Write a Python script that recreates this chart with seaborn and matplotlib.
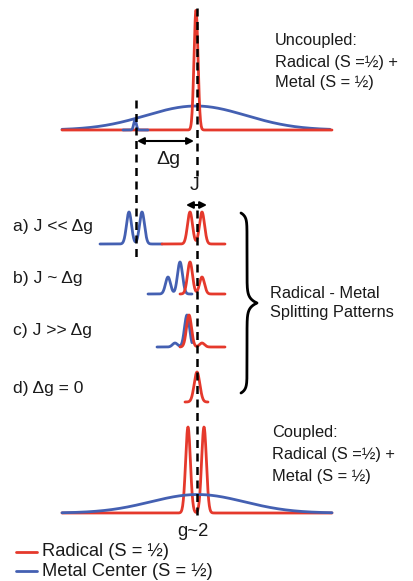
import numpy as np
import seaborn as sns
import matplotlib.pyplot as plt

# colours
RED = '#e5392c'
BLUE = '#4460b2'

# ---- data (pixel-ish diagram units, y grows downward) ----
# uncoupled spectrum
top_base = 130
top_radical_pos = [196]
top_radical_h = [120]
top_metal_pos = [196]
top_metal_h = [24]
top_metal_g_pos = [135]
top_metal_g_h = [10]

# splitting pattern rows
row_labels = ["a) J << \u0394g", "b) J ~ \u0394g", "c) J >> \u0394g", "d) \u0394g = 0"]
row_label_y = [227, 278, 330, 388]
row_base = [244, 294, 347, 402]
row_metal_pos = [[129, 142], [168, 180], [175, 187], []]
row_metal_h = [[32, 32], [17, 32], [4, 32], []]
row_metal_span = [(100, 162), (148, 192), (157, 192), None]
row_radical_pos = [[190, 202], [190, 202], [189, 202], [197]]
row_radical_h = [[32, 32], [32, 17], [32, 4], [30]]
row_radical_span = [(162, 225), (180, 225), (180, 225), (185, 208)]
row_width = [2.5, 2.5, 2.5, 2.8]

# coupled spectrum
cpl_base = 513
cpl_radical_pos = [188, 204]
cpl_radical_h = [86, 86]
cpl_metal_pos = [185, 210]
cpl_metal_h = [9.6, 9.6]

legend_labels = ["Radical (S = \u00bd)", "Metal Center (S = \u00bd)"]


def spectrum(lo, hi, pos, heights, width, base):
    x = np.linspace(lo, hi, 800)
    y = np.zeros_like(x)
    for p, h in zip(pos, heights):
        y += h * np.exp(-(x - p) ** 2 / (2 * width ** 2))
    return x, base - y


def draw(ax, x, y, color, lw=2.0):
    sns.lineplot(x=x, y=y, color=color, linewidth=lw, estimator=None,
                 sort=False, ax=ax)


sns.set_style("white")
plt.rcParams['font.family'] = ['Liberation Sans', 'DejaVu Sans']
TXT = '#1a1a1a'

fig = plt.figure(figsize=(4.13, 5.81), dpi=100)
ax = fig.add_axes([0, 0, 1, 1])
ax.set_xlim(0, 413)
ax.set_ylim(581, 0)
ax.axis('off')

# uncoupled
draw(ax, *spectrum(62, 330, top_metal_pos, top_metal_h, 50, top_base), BLUE)
draw(ax, *spectrum(62, 332, top_radical_pos, top_radical_h, 2.0, top_base), RED)
draw(ax, *spectrum(123, 148, top_metal_g_pos, top_metal_g_h, 1.3, top_base), BLUE)

# splitting rows
for i in range(4):
    if row_metal_span[i] is not None:
        draw(ax, *spectrum(*row_metal_span[i], row_metal_pos[i], row_metal_h[i], row_width[i], row_base[i]), BLUE)
    draw(ax, *spectrum(*row_radical_span[i], row_radical_pos[i], row_radical_h[i], row_width[i], row_base[i]), RED)
    ax.text(13, row_label_y[i], row_labels[i], fontsize=12.6, va='center',
            ha='left', color=TXT)

# coupled
draw(ax, *spectrum(62, 332, cpl_radical_pos, cpl_radical_h, 2.4, cpl_base), RED)
draw(ax, *spectrum(62, 332, cpl_metal_pos, cpl_metal_h, 45, cpl_base), BLUE)

# dashed guide lines
dash = dict(color='black', lw=1.8, dashes=(3.2, 2.2))
ax.plot([135.5, 135.5], [100, 258], **dash)
ax.plot([196.5, 196.5], [8, 176], **dash)
ax.plot([196.5, 196.5], [210, 518], **dash)

# arrows
arw = dict(arrowstyle='<|-|>', lw=1.5, color='black', shrinkA=0, shrinkB=0,
           mutation_scale=10)
ax.annotate('', xy=(194, 141), xytext=(137, 141), arrowprops=arw)
ax.annotate('', xy=(207, 205), xytext=(186, 205), arrowprops=arw)
ax.text(168, 160, "\u0394g", fontsize=14, ha='center', va='center', color=TXT)
ax.text(195, 186, "J", fontsize=14, ha='center', va='center', color=TXT)

# brace
ys = np.linspace(213, 303, 200)
s = (ys - 213) / 90.0
xs = 247 - 6 * np.exp(-s / 0.04) + 10 * np.exp(-(1 - s) / 0.05)
bx = np.concatenate([xs, xs[::-1]])
by = np.concatenate([ys, 606 - ys[::-1]])
ax.plot(bx, by, color='black', lw=2.0)

# text blocks
fs = 11.8
ax.text(275, 40, "Uncoupled:", fontsize=fs, va='center', color=TXT)
ax.text(275, 62, "Radical (S =\u00bd) +", fontsize=fs, va='center', color=TXT)
ax.text(275, 83, "Metal (S = \u00bd)", fontsize=fs, va='center', color=TXT)
ax.text(270, 293, "Radical - Metal", fontsize=fs, va='center', color=TXT)
ax.text(270, 313, "Splitting Patterns", fontsize=fs, va='center', color=TXT)
ax.text(272, 433, "Coupled:", fontsize=fs, va='center', color=TXT)
ax.text(272, 455, "Radical (S =\u00bd) +", fontsize=fs, va='center', color=TXT)
ax.text(272, 476, "Metal (S = \u00bd)", fontsize=fs, va='center', color=TXT)
ax.text(193, 532, "g~2", fontsize=13.3, ha='center', va='center', color=TXT)

# legend
for yy, col, lab in zip([552, 571], [RED, BLUE], legend_labels):
    ax.plot([16, 37], [yy, yy], color=col, lw=2.0)
    ax.text(42, yy, lab, fontsize=13.2, va='center', color=TXT)

fig.savefig('out.png', dpi=100)
